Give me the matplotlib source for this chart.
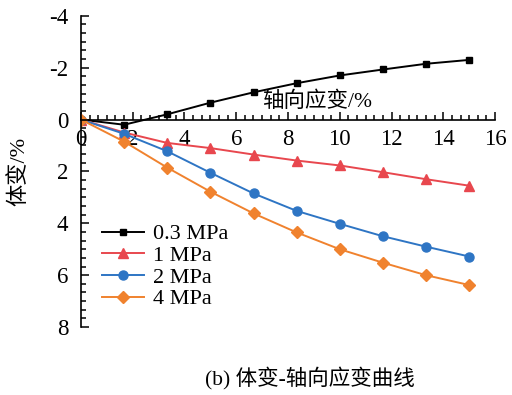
import matplotlib.pyplot as plt
from matplotlib.ticker import MultipleLocator, AutoMinorLocator

plt.rcParams['font.family'] = ['Liberation Serif', 'Noto Sans CJK SC']
plt.rcParams['axes.unicode_minus'] = False

# 轴向应变 (%)
strain = [0, 1.67, 3.33, 5.0, 6.67, 8.33, 10.0, 11.67, 13.33, 15.0]
# 各围压下的体变 (%)
vol_03 = [0, 0.2, -0.2, -0.65, -1.05, -1.4, -1.7, -1.93, -2.15, -2.3]
vol_1 = [0, 0.5, 0.9, 1.1, 1.35, 1.58, 1.77, 2.03, 2.3, 2.55]
vol_2 = [0, 0.55, 1.22, 2.05, 2.85, 3.52, 4.02, 4.5, 4.9, 5.28]
vol_4 = [0, 0.85, 1.85, 2.78, 3.62, 4.35, 5.0, 5.52, 6.0, 6.38]
labels = ['0.3 MPa', '1 MPa', '2 MPa', '4 MPa']

fig = plt.figure(figsize=(5.12, 3.95), dpi=100)
ax = fig.add_axes([0.158, 0.172, 0.809, 0.788])

ax.plot(strain, vol_03, color='black', marker='s', ms=4.8, lw=1.4, label=labels[0])
ax.plot(strain, vol_1, color='#E8474E', marker='^', ms=6.5, lw=1.4, label=labels[1])
ax.plot(strain, vol_2, color='#2E75C4', marker='o', ms=6.5, lw=1.4, label=labels[2])
ax.plot(strain, vol_4, color='#F0822E', marker='D', ms=5.8, lw=1.4, label=labels[3])

ax.set_xlim(0, 16)
ax.set_ylim(8, -4)
ax.xaxis.set_major_locator(MultipleLocator(2))
ax.xaxis.set_minor_locator(AutoMinorLocator(6))
ax.yaxis.set_major_locator(MultipleLocator(2))
ax.yaxis.set_minor_locator(AutoMinorLocator(6))

ax.spines['top'].set_visible(False)
ax.spines['right'].set_visible(False)
ax.spines['bottom'].set_position(('data', 0))
for s in ('left', 'bottom'):
    ax.spines[s].set_linewidth(1.2)
ax.tick_params(which='both', direction='in', labelsize=16.5, width=1.1)
ax.tick_params(which='major', length=6)
ax.tick_params(which='minor', length=3.5)
ax.tick_params(axis='x', pad=7)
ax.tick_params(axis='y', pad=9)

ax.text(11.25, -0.3, '轴向应变/%', fontsize=15.5, ha='right', va='bottom')
ax.set_ylabel('体变/%', fontsize=16, labelpad=14)

ax.legend(loc='upper left', bbox_to_anchor=(0.03, 0.36), frameon=False, fontsize=16,
          handlelength=1.9, labelspacing=0.05, handletextpad=0.4, borderaxespad=0.0)

fig.text(0.605, 0.025, '(b) 体变-轴向应变曲线', fontsize=15.5, ha='center')

fig.savefig('out.png')
